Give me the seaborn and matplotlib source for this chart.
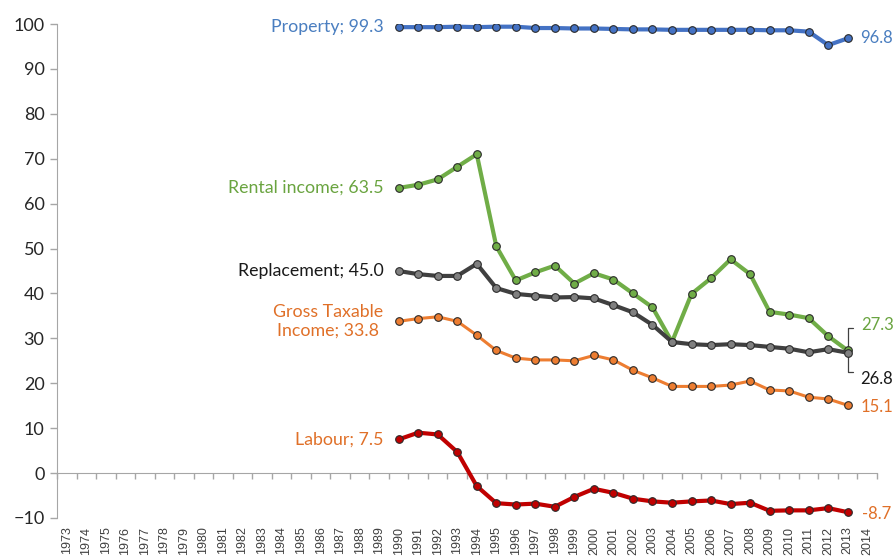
import numpy as np
import pandas as pd
import matplotlib
matplotlib.use("Agg")
import matplotlib.pyplot as plt
from matplotlib.transforms import Affine2D, ScaledTranslation
import seaborn as sns

# ---- data ----
all_years = list(range(1973, 2015))
years = list(range(1990, 2014))
property_vals = [99.3, 99.3, 99.3, 99.4, 99.3, 99.4, 99.4, 99.1, 99.1, 99.0, 99.0,
                 98.9, 98.8, 98.8, 98.7, 98.7, 98.7, 98.7, 98.7, 98.6, 98.6, 98.3, 95.3, 96.8]
rental_vals = [63.5, 64.2, 65.4, 68.2, 71.0, 50.5, 42.9, 44.7, 46.2, 42.2, 44.5,
               43.1, 40.0, 36.9, 29.2, 39.9, 43.4, 47.6, 44.3, 35.9, 35.3, 34.5, 30.5, 27.3]
replacement_vals = [45.0, 44.3, 43.9, 43.9, 46.6, 41.2, 39.9, 39.5, 39.1, 39.2, 38.9,
                    37.4, 35.8, 33.0, 29.2, 28.7, 28.5, 28.7, 28.5, 28.1, 27.7, 26.9, 27.6, 26.8]
gross_vals = [33.8, 34.4, 34.8, 33.8, 30.7, 27.3, 25.6, 25.2, 25.2, 25.0, 26.2,
              25.2, 22.9, 21.2, 19.3, 19.3, 19.3, 19.6, 20.5, 18.5, 18.3, 16.9, 16.5, 15.1]
labour_vals = [7.5, 9.0, 8.6, 4.7, -2.9, -6.7, -7.0, -6.8, -7.5, -5.3, -3.5,
               -4.4, -5.7, -6.3, -6.6, -6.3, -6.1, -6.9, -6.6, -8.4, -8.3, -8.3, -7.8, -8.7]

series_names = ["Property", "Rental income", "Replacement", "Gross Taxable\nIncome", "Labour"]
series_vals = [property_vals, rental_vals, replacement_vals, gross_vals, labour_vals]
line_colors = ["#4472C4", "#70AD47", "#404040", "#ED7D31", "#C00000"]
marker_colors = ["#4472C4", "#70AD47", "#808080", "#ED7D31", "#C00000"]
line_widths = [3.0, 3.0, 3.0, 2.2, 3.0]
label_colors = ["#4A7EC0", "#6AA440", "#1A1A1A", "#E07028", "#E07028"]
end_label_colors = ["#4A7EC0", "#6AA440", "#1A1A1A", "#E07028", "#E07028"]
end_offsets = [(9, 0), (10, 18), (9, -19), (9, -1), (10, -1)]

df = pd.DataFrame({
    "year": years * len(series_names),
    "value": sum(series_vals, []),
    "series": sum([[n] * len(years) for n in series_names], []),
})

sns.set_style("white")
plt.rcParams["font.family"] = ["Lato", "DejaVu Sans"]

fig = plt.figure(figsize=(8.96, 5.58), dpi=100)
ax = fig.add_axes([57 / 896, 1 - 518 / 558, (877 - 57) / 896, (518 - 24) / 558])

for name, lc, mc, lw in zip(series_names, line_colors, marker_colors, line_widths):
    sub = df[df["series"] == name]
    sns.lineplot(data=sub, x="year", y="value", ax=ax, color=lc, linewidth=lw,
                 marker="o", markersize=5.5, markerfacecolor=mc,
                 markeredgecolor="#2a2a2a", markeredgewidth=0.8, zorder=3)

ax.set_xlim(all_years[0] - 0.5, all_years[-1] + 0.5)
ax.set_ylim(-10, 100)
ax.set_xlabel("")
ax.set_ylabel("")

# y axis
ax.set_yticks(np.arange(-10, 101, 10))
ax.tick_params(axis="y", direction="out", length=5, width=1, color="#A6A6A6",
               labelsize=13, labelcolor="#262626", pad=4, left=True)

# x axis: spine at zero, labels at the bottom
ax.spines["bottom"].set_position(("data", 0))
ax.spines["bottom"].set_color("#A6A6A6")
ax.spines["left"].set_color("#A6A6A6")
ax.spines["top"].set_visible(False)
ax.spines["right"].set_visible(False)
ax.set_xticks(all_years)
ax.set_xticklabels([str(y) for y in all_years], rotation=90, fontsize=9,
                   family=["Liberation Sans", "DejaVu Sans"], color="#404040")
ax.set_xticks(np.arange(all_years[0] - 0.5, all_years[-1] + 1.0, 1.0), minor=True)
ax.tick_params(axis="x", which="major", length=0, pad=38.5, bottom=True)
ax.tick_params(axis="x", which="minor", length=4, width=1, color="#A6A6A6",
               direction="out", bottom=True)
ax.grid(False)

# start labels
for name, vals, col in zip(series_names, series_vals, label_colors):
    ax.annotate(f"{name}; {vals[0]:.1f}", xy=(years[0], vals[0]), xytext=(-11, 0),
                textcoords="offset points", ha="right", va="center",
                multialignment="center", fontsize=12.8, color=col)

# end labels
for vals, col, off in zip(series_vals, end_label_colors, end_offsets):
    ax.annotate(f"{vals[-1]:.1f}", xy=(years[-1], vals[-1]), xytext=off,
                textcoords="offset points", ha="left", va="center",
                fontsize=12, color=col)

# bracket leader lines for the two close end values
base = Affine2D().scale(1 / 72) + fig.dpi_scale_trans + \
    ScaledTranslation(years[-1], replacement_vals[-1], ax.transData)
ax.plot([4, 0, 0, 4], [18, 18, -14, -14], transform=base, color="#404040",
        linewidth=0.9, zorder=2, clip_on=False)

fig.savefig("out.png", dpi=100)
